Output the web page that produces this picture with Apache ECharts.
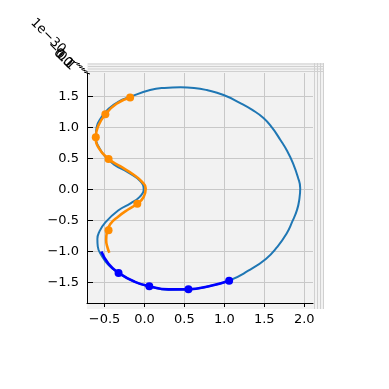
<!DOCTYPE html>
<html><head><meta charset="utf-8">
<script src="https://cdn.jsdelivr.net/npm/echarts@6/dist/echarts.min.js"></script>
<style>html,body{margin:0;padding:0;background:#fff}#c{width:389px;height:389px}</style>
</head><body><div id="c"></div>
<script>
var xTicks = [-0.5, 0, 0.5, 1, 1.5, 2];
var yTicks = [-1.5, -1, -0.5, 0, 0.5, 1, 1.5];
var zTickLabels = ["−0.1", "0.0", "0.1"];
var blueCurve = [[0.45,1.645],[0.62,1.635],[0.78,1.6],[0.99,1.52],[1.2,1.39],[1.35,1.28],[1.49,1.15],[1.6,0.99],[1.70,0.80],[1.79,0.61],[1.86,0.42],[1.92,0.2],[1.95,0.02],[1.94,-0.15],[1.91,-0.33],[1.85,-0.52],[1.78,-0.71],[1.66,-0.93],[1.52,-1.12],[1.3,-1.31],[1.06,-1.47],[0.82,-1.555],[0.55,-1.61],[0.3,-1.615],[0.06,-1.56],[-0.12,-1.49],[-0.325,-1.345],[-0.45,-1.22],[-0.54,-1.06],[-0.585,-0.92],[-0.59,-0.8],[-0.565,-0.68],[-0.49,-0.53],[-0.33,-0.34],[-0.17,-0.22],[-0.06,-0.12],[-0.01,-0.01],[-0.05,0.13],[-0.2,0.27],[-0.38,0.4],[-0.5,0.54],[-0.58,0.7],[-0.61,0.84],[-0.6,1.0],[-0.54,1.16],[-0.45,1.3],[-0.33,1.41],[-0.18,1.49],[0.07,1.6],[0.25,1.635],[0.45,1.645]];
var darkBlueCurve = [[-0.54,-1.0],[-0.45,-1.2],[-0.325,-1.345],[-0.12,-1.49],[0.06,-1.56],[0.3,-1.61],[0.55,-1.61],[0.82,-1.555],[1.06,-1.47]];
var darkBluePoints = [[-0.325,-1.345],[0.06,-1.56],[0.55,-1.61],[1.06,-1.47]];
var orangeCurve = [[-0.18,1.48],[-0.35,1.38],[-0.49,1.21],[-0.58,1.02],[-0.61,0.84],[-0.57,0.66],[-0.45,0.49],[-0.3,0.37],[-0.14,0.24],[-0.03,0.12],[0.015,0.02],[-0.01,-0.12],[-0.09,-0.23],[-0.2,-0.32],[-0.33,-0.44],[-0.43,-0.56],[-0.47,-0.68],[-0.48,-0.82],[-0.46,-0.95],[-0.44,-1.02]];
var orangePoints = [[-0.18,1.48],[-0.49,1.21],[-0.61,0.84],[-0.45,0.49],[-0.09,-0.23],[-0.45,-0.66]];

function fmt(v){ return v.toFixed(1).replace('-', '\u2212'); }
var font = 'DejaVu Sans';
var chart = echarts.init(document.getElementById('c'), null, {renderer:'canvas'});

var gfx = [
  {type:'rect', z:-1, shape:{x:87,y:63,width:237,height:246}, style:{fill:'#f2f2f2'}}
];
[64,66.5,69,71.5].forEach(function(y){
  gfx.push({type:'line', z:-1, shape:{x1:88,y1:y,x2:323,y2:y}, style:{stroke:'#d0d0d0',lineWidth:1}});
});
[314.5,317.5,320.5,323.5].forEach(function(x){
  gfx.push({type:'line', z:-1, shape:{x1:x,y1:63,x2:x,y2:309}, style:{stroke:'#d0d0d0',lineWidth:1}});
});
gfx.push({type:'text', x:48, y:36, rotation:-Math.PI/4, style:{text:'1e\u221230', font:'13px "DejaVu Sans"', fill:'#000', align:'center', verticalAlign:'middle'}});
zTickLabels.forEach(function(t,i){
  gfx.push({type:'text', x:60+i*3, y:55+i*3, rotation:-Math.PI/4, style:{text:t, font:'13px "DejaVu Sans"', fill:'#000', align:'center', verticalAlign:'middle'}});
});
for (var i=0;i<5;i++){
  gfx.push({type:'line', shape:{x1:74+i*2.5,y1:62+i*2.5,x2:80+i*2.5,y2:64+i*2.5}, style:{stroke:'#000',lineWidth:1}});
}

chart.setOption({
  animation:false,
  backgroundColor:'#fff',
  graphic: gfx,
  grid:{left:87, right:76, top:73, bottom:86, show:false},
  xAxis:{type:'value', min:-0.72, max:2.11,
    axisLine:{show:true, onZero:false, lineStyle:{color:'#000', width:1}},
    axisTick:{show:true, customValues:xTicks, length:4, lineStyle:{color:'#000'}},
    axisLabel:{customValues:xTicks, formatter:fmt, color:'#000', fontSize:13, fontFamily:font, margin:10},
    splitLine:{show:true, lineStyle:{color:'#c8c8c8', width:1}}},
  yAxis:{type:'value', min:-1.83, max:1.875,
    axisLine:{show:true, onZero:false, lineStyle:{color:'#000', width:1}},
    axisTick:{show:true, inside:true, customValues:yTicks, length:6, lineStyle:{color:'#000'}},
    axisLabel:{customValues:yTicks, formatter:fmt, color:'#000', fontSize:13, fontFamily:font, margin:8},
    splitLine:{show:true, lineStyle:{color:'#c8c8c8', width:1}}},
  series:[
    {type:'line', data:blueCurve, smooth:true, showSymbol:false, lineStyle:{color:'#1f77b4', width:2}, z:2},
    {type:'line', data:darkBlueCurve, smooth:true, showSymbol:false, lineStyle:{color:'#0000ff', width:2.6}, z:3},
    {type:'scatter', data:darkBluePoints, symbolSize:8, itemStyle:{color:'#0000ff', opacity:1}, z:4},
    {type:'line', data:orangeCurve, smooth:true, showSymbol:false, lineStyle:{color:'#ff8c00', width:2.6}, z:5},
    {type:'scatter', data:orangePoints, symbolSize:8, itemStyle:{color:'#ff8c00', opacity:1}, z:6}
  ]
});
</script></body></html>
